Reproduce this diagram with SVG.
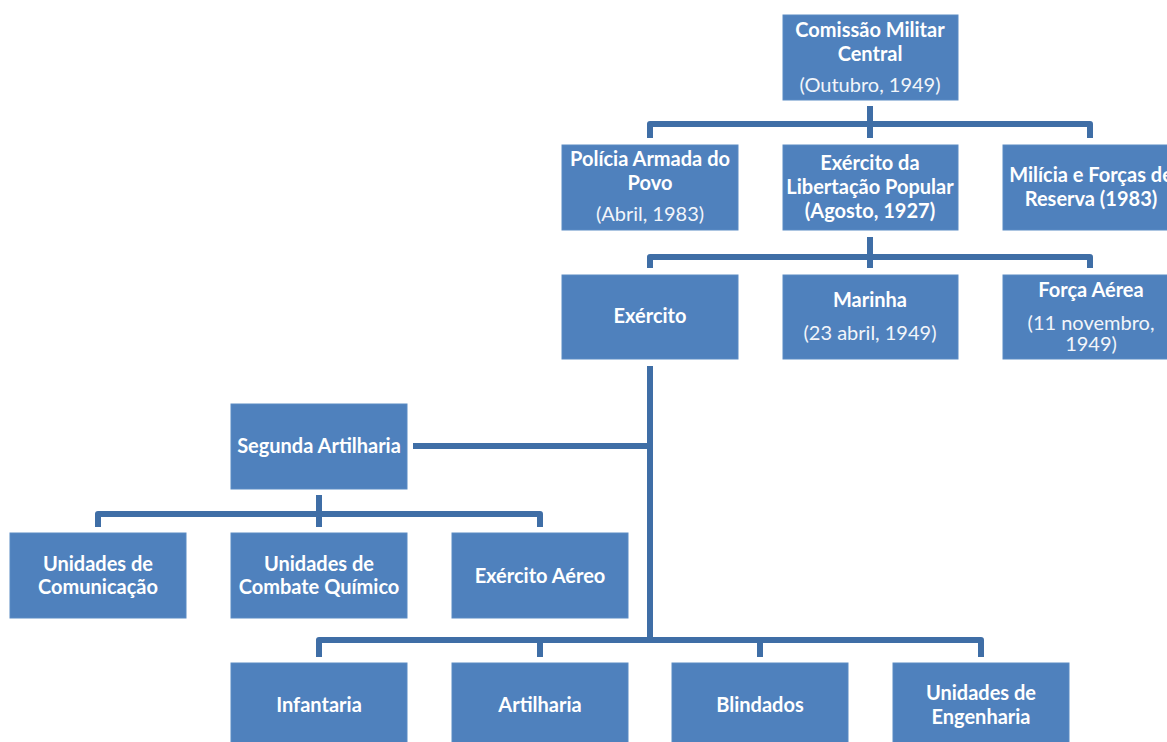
<svg xmlns="http://www.w3.org/2000/svg" width="1167" height="742" viewBox="0 0 1167 742">
<style>
.n{fill:#4f81bd;stroke:#5b8bc4;stroke-width:1}
.t{font-family:Lato,"Open Sans","Liberation Sans",sans-serif;font-size:20px;fill:#fff;text-anchor:middle}
.b{font-weight:bold}
.r{font-weight:normal;fill:#f2f5fa}
.c{fill:none;stroke:#3f6ea6;stroke-width:6;stroke-linejoin:round;stroke-linecap:butt}
</style>
<rect width="1167" height="742" fill="#fff"/>
<g id="connectors">
<path class="c" d="M870 106V138M650 138V124H1090V138"/>
<path class="c" d="M870 237V268M650 268V257H1090V268"/>
<path class="c" d="M650 366V640M413 446H650"/>
<path class="c" d="M319 495V527M98 527V514H540V527"/>
<path class="c" d="M319 657V640H981V657M540 640V657M760 640V657"/>
</g>
<g id="cmc"><rect class="n" x="783" y="15" width="175" height="85"/>
<text class="t b" x="870" y="37">Comissão Militar</text><text class="t b" x="870" y="61">Central</text><text class="t r" x="870" y="92">(Outubro, 1949)</text></g>
<g id="pap"><rect class="n" x="562" y="145" width="176" height="85"/>
<text class="t b" x="650" y="166">Polícia Armada do</text><text class="t b" x="650" y="190">Povo</text><text class="t r" x="650" y="221">(Abril, 1983)</text></g>
<g id="elp"><rect class="n" x="783" y="145" width="175" height="85"/>
<text class="t b" x="870" y="170">Exército da</text><text class="t b" x="870" y="194">Libertação Popular</text><text class="t b" x="870" y="218">(Agosto, 1927)</text></g>
<g id="milicia"><rect class="n" x="1003" y="145" width="176" height="85"/>
<text class="t b" x="1091" y="182">Milícia e Forças de</text><text class="t b" x="1091" y="206">Reserva (1983)</text></g>
<g id="exercito"><rect class="n" x="562" y="275" width="176" height="84"/>
<text class="t b" x="650" y="323">Exército</text></g>
<g id="marinha"><rect class="n" x="783" y="275" width="175" height="84"/>
<text class="t b" x="870" y="307">Marinha</text><text class="t r" x="870" y="340">(23 abril, 1949)</text></g>
<g id="forca-aerea"><rect class="n" x="1003" y="275" width="176" height="84"/>
<text class="t b" x="1091" y="297">Força Aérea</text><text class="t r" x="1091" y="330">(11 novembro,</text><text class="t r" x="1091" y="351">1949)</text></g>
<g id="segunda"><rect class="n" x="231" y="404" width="176" height="85"/>
<text class="t b" x="319" y="453">Segunda Artilharia</text></g>
<g id="comunicacao"><rect class="n" x="10" y="533" width="176" height="85"/>
<text class="t b" x="98" y="571">Unidades de</text><text class="t b" x="98" y="594">Comunicação</text></g>
<g id="quimico"><rect class="n" x="231" y="533" width="176" height="85"/>
<text class="t b" x="319" y="571">Unidades de</text><text class="t b" x="319" y="594">Combate Químico</text></g>
<g id="aereo"><rect class="n" x="452" y="533" width="176" height="85"/>
<text class="t b" x="540" y="583">Exército Aéreo</text></g>
<g id="infantaria"><rect class="n" x="231" y="663" width="176" height="85"/>
<text class="t b" x="319" y="712">Infantaria</text></g>
<g id="artilharia"><rect class="n" x="452" y="663" width="176" height="85"/>
<text class="t b" x="540" y="712">Artilharia</text></g>
<g id="blindados"><rect class="n" x="672" y="663" width="176" height="85"/>
<text class="t b" x="760" y="712">Blindados</text></g>
<g id="engenharia"><rect class="n" x="893" y="663" width="176" height="85"/>
<text class="t b" x="981" y="700">Unidades de</text><text class="t b" x="981" y="724">Engenharia</text></g>
</svg>
